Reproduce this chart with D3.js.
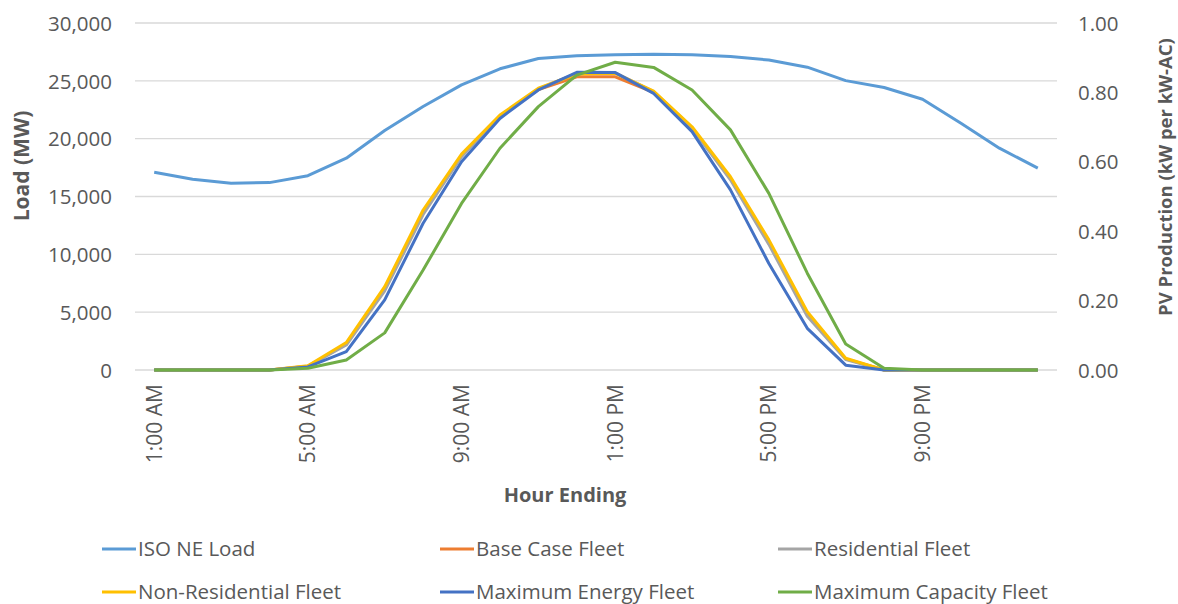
<!DOCTYPE html>
<html><head><meta charset="utf-8">
<script src="https://cdn.jsdelivr.net/npm/d3@7"></script>
<style>
body{margin:0;background:#fff;}
text{font-family:"Open Sans","Noto Sans",sans-serif;}
</style></head>
<body><svg id="c" width="1178" height="604"></svg>
<script>
const hours = ["1:00 AM","2:00 AM","3:00 AM","4:00 AM","5:00 AM","6:00 AM","7:00 AM","8:00 AM","9:00 AM","10:00 AM","11:00 AM","12:00 PM",
  "1:00 PM","2:00 PM","3:00 PM","4:00 PM","5:00 PM","6:00 PM","7:00 PM","8:00 PM","9:00 PM","10:00 PM","11:00 PM","12:00 AM"];
const isoLoad = [17100,16500,16150,16200,16800,18310,20700,22780,24650,26040,26930,27160,27250,27300,27250,27100,26800,26180,25020,24420,23410,21340,19180,17450];
const baseCase = [0,0,0,0,0.011,0.075,0.235,0.455,0.618,0.732,0.808,0.845,0.845,0.800,0.698,0.553,0.370,0.163,0.032,0,0,0,0,0];
const residential = [0,0,0,0,0.011,0.072,0.228,0.448,0.615,0.732,0.810,0.855,0.856,0.802,0.697,0.548,0.362,0.155,0.030,0,0,0,0,0];
const nonResidential = [0,0,0,0,0.012,0.079,0.240,0.461,0.622,0.735,0.812,0.853,0.855,0.804,0.701,0.557,0.375,0.168,0.034,0,0,0,0,0];
const maxEnergy = [0,0,0,0,0.009,0.053,0.202,0.423,0.600,0.725,0.807,0.858,0.857,0.797,0.687,0.519,0.307,0.120,0.014,0,0,0,0,0];
const maxCapacity = [0,0,0,0,0.005,0.029,0.107,0.288,0.480,0.639,0.759,0.850,0.887,0.872,0.807,0.692,0.509,0.279,0.075,0.005,0,0,0,0];
const leftTicks = [0,5000,10000,15000,20000,25000,30000];
const rightTicks = [0,0.2,0.4,0.6,0.8,1.0];
const shownHours = ["1:00 AM","5:00 AM","9:00 AM","1:00 PM","5:00 PM","9:00 PM"];

const seriesNames = ["ISO NE Load","Base Case Fleet","Residential Fleet","Non-Residential Fleet","Maximum Energy Fleet","Maximum Capacity Fleet"];
const colors = ["#5B9BD5","#ED7D31","#A5A5A5","#FFC000","#4472C4","#70AD47"];
const pvSeries = [baseCase,residential,nonResidential,maxEnergy,maxCapacity];

const svg = d3.select("#c");
const L=135,R=1057,T=23,B=370;
const x = d3.scaleBand().domain(hours).range([L,R]);
const xc = h => x(h)+x.bandwidth()/2;
const yL = d3.scaleLinear().domain([0,30000]).range([B,T]);
const yR = d3.scaleLinear().domain([0,1]).range([B,T]);
const txt="#595959";

// gridlines
svg.append("g").selectAll("line").data(leftTicks).join("line")
  .attr("x1",L).attr("x2",R).attr("y1",d=>yL(d)).attr("y2",d=>yL(d))
  .attr("stroke","#D9D9D9").attr("stroke-width",1.3);

// left axis
const ga = svg.append("g").attr("transform",`translate(${L-23},0)`)
  .call(d3.axisLeft(yL).tickValues(leftTicks).tickFormat(d3.format(",")).tickSize(0).tickPadding(0));
ga.select(".domain").remove();
ga.selectAll("text").attr("font-size",20.5).attr("fill",txt).attr("dy","0.35em").style("font-family","'Open Sans'");

// right axis
const gr = svg.append("g").attr("transform",`translate(1078,0)`)
  .call(d3.axisRight(yR).tickValues(rightTicks).tickFormat(d3.format(".2f")).tickSize(0).tickPadding(0));
gr.select(".domain").remove();
gr.selectAll("text").attr("font-size",20.5).attr("fill",txt).attr("dy","0.35em").style("font-family","'Open Sans'");

// x axis
const gx = svg.append("g").attr("transform",`translate(0,${B+14})`)
  .call(d3.axisBottom(x).tickValues(shownHours).tickSize(0).tickPadding(0));
gx.select(".domain").remove();
gx.selectAll("text").attr("font-size",21).attr("fill",txt).style("font-family","'Open Sans'")
  .attr("text-anchor","end").attr("transform","rotate(-90)").attr("x",0).attr("y",0).attr("dy","0.35em").attr("dx",0);

// lines
const lineL = d3.line().x((d,i)=>xc(hours[i])).y(d=>yL(d));
const lineR = d3.line().x((d,i)=>xc(hours[i])).y(d=>yR(d));
svg.append("path").datum(isoLoad).attr("d",lineL).attr("fill","none").attr("stroke",colors[0]).attr("stroke-width",3).attr("stroke-linejoin","round");
pvSeries.forEach((s,k)=>{
  svg.append("path").datum(s).attr("d",lineR).attr("fill","none").attr("stroke",colors[k+1]).attr("stroke-width",3).attr("stroke-linejoin","round");
});

// axis titles
svg.append("text").attr("transform","translate(29,166) rotate(-90)").attr("text-anchor","middle")
  .attr("font-size",21).attr("font-weight","bold").attr("fill",txt).text("Load (MW)");
svg.append("text").attr("transform","translate(1172,177) rotate(-90)").attr("text-anchor","middle")
  .attr("font-size",18.5).attr("font-weight","bold").attr("fill",txt).text("PV Production (kW per kW-AC)");
svg.append("text").attr("x",565).attr("y",502).attr("text-anchor","middle")
  .attr("font-size",20).attr("font-weight","bold").attr("fill",txt).text("Hour Ending");

// legend
const lx=[102,440,778], ly=[549,592];
seriesNames.forEach((n,k)=>{
  const gx0=lx[k%3], gy0=ly[Math.floor(k/3)];
  svg.append("line").attr("x1",gx0).attr("x2",gx0+34).attr("y1",gy0).attr("y2",gy0).attr("stroke",colors[k]).attr("stroke-width",3);
  svg.append("text").attr("x",gx0+36).attr("y",gy0).attr("dy","0.35em").attr("font-size",20.5).attr("fill",txt).text(n);
});
</script></body></html>
